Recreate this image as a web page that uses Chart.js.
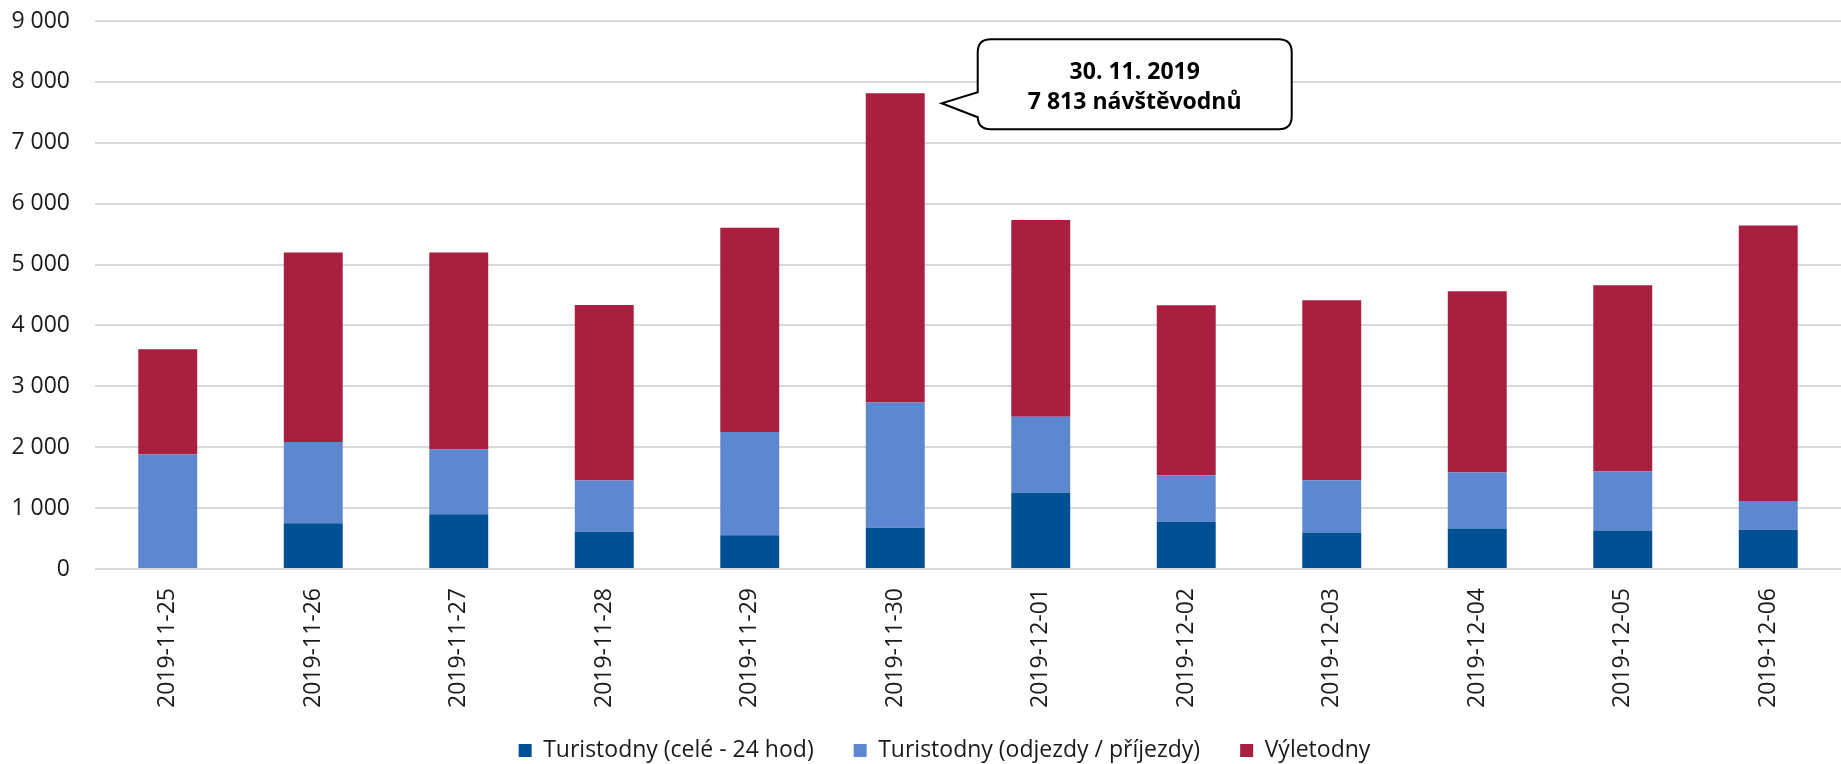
<!DOCTYPE html>
<html>
<head>
    <title>Návštěvodny</title>
    <script src="https://cdn.jsdelivr.net/npm/chart.js"></script>
    <style>
        html, body { margin: 0; padding: 0; background: #fff; }
        #wrap { width: 1841px; height: 764px; }
    </style>
</head>
<body>
    <div id="wrap"><canvas id="visitChart" width="1841" height="764"></canvas></div>
    <script>
        // data
        const days = ['2019-11-25', '2019-11-26', '2019-11-27', '2019-11-28', '2019-11-29', '2019-11-30',
                      '2019-12-01', '2019-12-02', '2019-12-03', '2019-12-04', '2019-12-05', '2019-12-06'];
        const touristFull = [0, 750, 900, 612, 555, 677, 1252, 778, 600, 664, 632, 645];
        const touristPartial = [1880, 1335, 1065, 843, 1697, 2058, 1248, 763, 858, 921, 971, 471];
        const dayTrips = [1730, 3115, 3235, 2880, 3353, 5078, 3230, 2789, 2955, 2975, 3057, 4524];
        const yTicks = [0, 1000, 2000, 3000, 4000, 5000, 6000, 7000, 8000, 9000];
        const calloutIndex = 5;
        const calloutLines = ['30. 11. 2019', '7 813 návštěvodnů'];

        const fontFamily = '"Open Sans", "Noto Sans", sans-serif';
        const fmt = v => String(v).replace(/\B(?=(\d{3})+(?!\d))/g, ' ');

        // speech bubble pointing at the peak bar
        const calloutPlugin = {
            id: 'callout',
            afterDatasetsDraw(chart) {
                const el = chart.getDatasetMeta(2).data[calloutIndex];
                if (!el) return;
                const ctx = chart.ctx;
                const tipX = el.x + el.width / 2 + 17;
                const tipY = el.y + 10;
                const left = tipX + 36, right = left + 314;
                const top = tipY - 64, bottom = tipY + 26;
                const r = 13;
                ctx.save();
                ctx.beginPath();
                ctx.moveTo(left + r, top);
                ctx.lineTo(right - r, top);
                ctx.quadraticCurveTo(right, top, right, top + r);
                ctx.lineTo(right, bottom - r);
                ctx.quadraticCurveTo(right, bottom, right - r, bottom);
                ctx.lineTo(left + r, bottom);
                ctx.quadraticCurveTo(left, bottom, left, bottom - r);
                ctx.lineTo(left, tipY + 14);
                ctx.lineTo(tipX, tipY);
                ctx.lineTo(left, tipY - 11);
                ctx.lineTo(left, top + r);
                ctx.quadraticCurveTo(left, top, left + r, top);
                ctx.closePath();
                ctx.fillStyle = '#fff';
                ctx.fill();
                ctx.lineWidth = 2;
                ctx.strokeStyle = '#000';
                ctx.stroke();
                ctx.fillStyle = '#000';
                ctx.font = 'bold 23px ' + fontFamily;
                ctx.textAlign = 'center';
                ctx.textBaseline = 'middle';
                const cx = (left + right) / 2;
                ctx.fillText(calloutLines[0], cx, tipY - 31);
                ctx.fillText(calloutLines[1], cx, tipY - 1);
                ctx.restore();
            }
        };

        // nudge the legend row to where the original sits (the legend clips to its box)
        const legendShift = {
            id: 'legendShift',
            afterLayout(chart) {
                const lg = chart.legend;
                if (!lg) return;
                const dy = -10, dx = 24;
                lg.top += dy;
                lg.bottom = chart.height;
                lg.left += dx; lg.right += dx;
            }
        };

        const ctx = document.getElementById('visitChart').getContext('2d');
        const chart = new Chart(ctx, {
            type: 'bar',
            data: {
                labels: days,
                datasets: [
                    { label: 'Turistodny (celé - 24 hod)', data: touristFull, backgroundColor: '#005093' },
                    { label: 'Turistodny (odjezdy / příjezdy)', data: touristPartial, backgroundColor: '#5E87D1' },
                    { label: 'Výletodny', data: dayTrips, backgroundColor: '#A81F40' }
                ]
            },
            options: {
                responsive: false,
                animation: false,
                layout: { padding: { top: 21, left: 0, right: 0, bottom: 0 } },
                datasets: { bar: { barPercentage: 0.405, categoryPercentage: 1, borderWidth: 0 } },
                plugins: {
                    legend: {
                        position: 'bottom',
                        maxHeight: 55,
                        labels: {
                            boxWidth: 13,
                            boxHeight: 13,
                            padding: 40,
                            color: '#1a1a1a',
                            font: { family: fontFamily, size: 23 }
                        }
                    },
                    tooltip: { enabled: false }
                },
                scales: {
                    x: {
                        stacked: true,
                        afterFit: axis => { axis.height = 140; },
                        grid: { display: false, drawTicks: false },
                        border: { display: false },
                        ticks: {
                            minRotation: 90,
                            maxRotation: 90,
                            padding: 19,
                            color: '#1a1a1a',
                            font: { family: fontFamily, size: 23 }
                        }
                    },
                    y: {
                        stacked: true,
                        min: 0,
                        max: 9000,
                        afterBuildTicks: axis => { axis.ticks = yTicks.map(v => ({ value: v })); },
                        afterFit: axis => { axis.width = 95; },
                        grid: { color: '#D9D9D9', lineWidth: 2, drawTicks: true, tickLength: 22, tickColor: 'rgba(0,0,0,0)' },
                        border: { display: false },
                        ticks: {
                            padding: 3,
                            color: '#1a1a1a',
                            font: { family: fontFamily, size: 23 },
                            callback: v => fmt(v)
                        }
                    }
                }
            },
            plugins: [calloutPlugin, legendShift]
        });
    </script>
</body>
</html>
